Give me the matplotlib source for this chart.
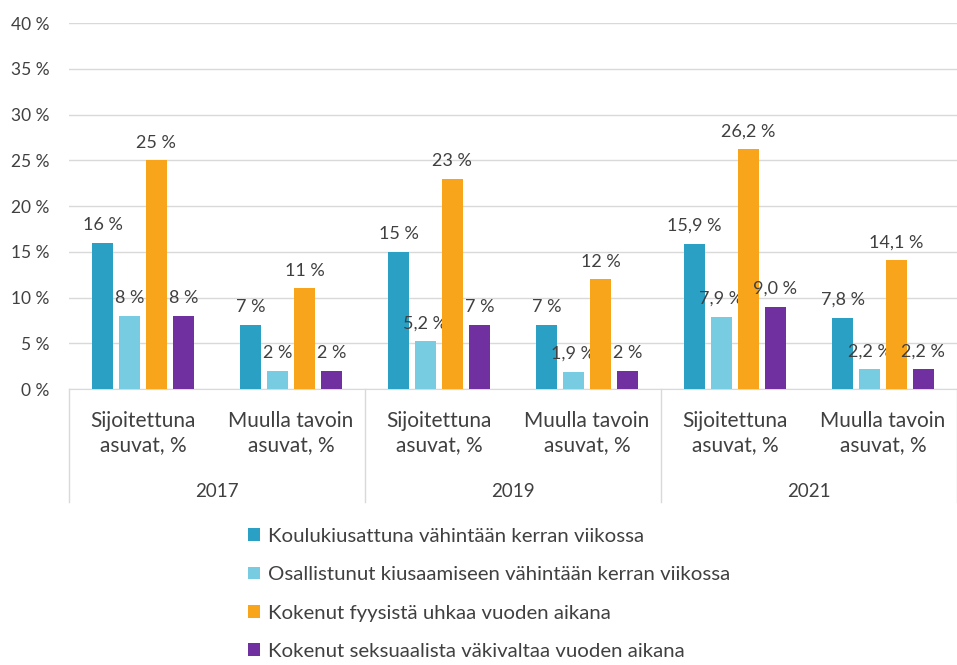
import matplotlib.pyplot as plt
import numpy as np

plt.rcParams['font.family'] = ['Lato', 'DejaVu Sans']

groups = ['Sijoitettuna\nasuvat, %', 'Muulla tavoin\nasuvat, %'] * 3
years = ['2017', '2019', '2021']

series_names = [
    'Koulukiusattuna vähintään kerran viikossa',
    'Osallistunut kiusaamiseen vähintään kerran viikossa',
    'Kokenut fyysistä uhkaa vuoden aikana',
    'Kokenut seksuaalista väkivaltaa vuoden aikana',
]
kiusattu = [16, 7, 15, 7, 15.9, 7.8]
kiusannut = [8, 2, 5.2, 1.9, 7.9, 2.2]
uhka = [25, 11, 23, 12, 26.2, 14.1]
vakivalta = [8, 2, 7, 2, 9.0, 2.2]

kiusattu_lbl = ['16 %', '7 %', '15 %', '7 %', '15,9 %', '7,8 %']
kiusannut_lbl = ['8 %', '2 %', '5,2 %', '1,9 %', '7,9 %', '2,2 %']
uhka_lbl = ['25 %', '11 %', '23 %', '12 %', '26,2 %', '14,1 %']
vakivalta_lbl = ['8 %', '2 %', '7 %', '2 %', '9,0 %', '2,2 %']

colors = ['#2aa0c4', '#78cce2', '#f8a51b', '#7030a0']
txt = '#404040'

fig = plt.figure(figsize=(9.57, 6.65), dpi=100)
ax = fig.add_axes([0.072, 0.415, 0.928, 0.550])

x = np.arange(len(groups))
step = 0.182
width = 0.142
all_vals = [kiusattu, kiusannut, uhka, vakivalta]
all_lbls = [kiusattu_lbl, kiusannut_lbl, uhka_lbl, vakivalta_lbl]

for i, (vals, lbls) in enumerate(zip(all_vals, all_lbls)):
    pos = x + (i - 1.5) * step
    ax.bar(pos, vals, width, color=colors[i], label=series_names[i], zorder=3)
    for px, v, t in zip(pos, vals, lbls):
        ax.annotate(t, (px, v), xytext=(0, 7), textcoords='offset points',
                    ha='center', va='bottom', fontsize=13, color=txt)

ax.set_ylim(0, 40)
ax.set_xlim(-0.5, 5.5)
ax.set_yticks(range(0, 41, 5))
ax.set_yticklabels([f'{t} %' for t in range(0, 41, 5)], fontsize=12.5, color=txt)
ax.yaxis.grid(True, color='#d9d9d9', linewidth=1, zorder=0)
ax.tick_params(axis='y', length=0, pad=14)
ax.set_xticks([])
for s in ['top', 'right', 'left']:
    ax.spines[s].set_visible(False)
ax.spines['bottom'].set_color('#d9d9d9')

# two-level category axis
tr = ax.get_xaxis_transform()
for xi, g in zip(x, groups):
    ax.text(xi, -0.12, g, transform=tr, ha='center', va='center',
            fontsize=15, color=txt, linespacing=1.25)
for k, yr in enumerate(years):
    ax.text(2 * k + 0.5, -0.281, yr, transform=tr, ha='center', va='center',
            fontsize=13.5, color=txt)
for xb in [-0.5, 1.5, 3.5, 5.5]:
    ax.plot([xb, xb], [0, -0.31], transform=tr, color='#d9d9d9',
            linewidth=1, clip_on=False)

fig.legend(loc='upper left', bbox_to_anchor=(0.240, 0.234), frameon=False,
           fontsize=14.7, handlelength=0.6, handleheight=0.6,
           handletextpad=0.4, labelspacing=1.05, labelcolor=txt)

fig.savefig('out.png', dpi=100)
